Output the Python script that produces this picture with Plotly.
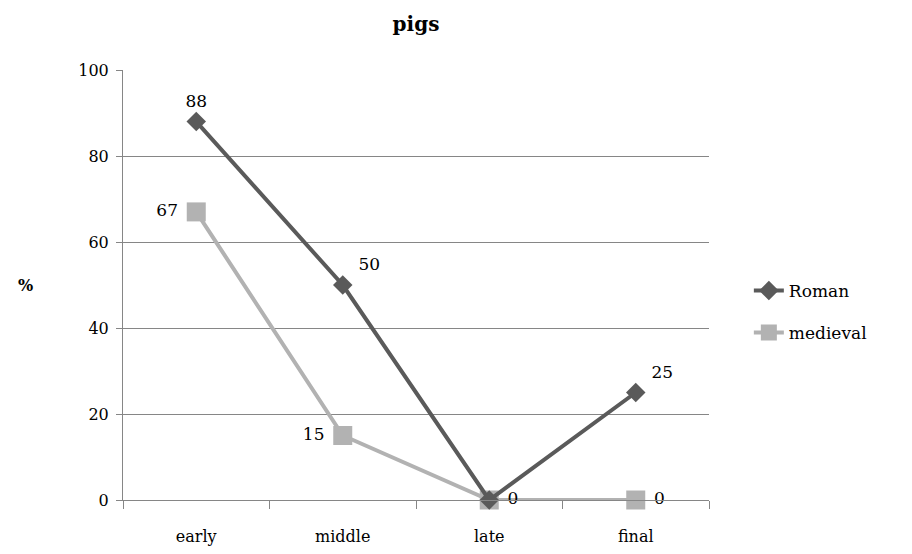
import plotly.graph_objects as go

# Share of pig remains by phase (%)
phases = ["early", "middle", "late", "final"]
roman = [88, 50, 0, 25]
medieval = [67, 15, 0, 0]
# Roman's "late" label coincides with the medieval one, so only one is written
roman_labels = ["88", "50", "", "25"]
roman_label_pos = ["top center", "top right", "middle right", "top right"]
medieval_label_pos = ["middle left", "middle left", "middle right", "middle right"]
y_ticks = [0, 20, 40, 60, 80, 100]

SERIF = "DejaVu Serif"
DARK = "#5a5a5a"
LIGHT = "#b2b2b2"
LABEL_FONT = dict(family=SERIF, size=17, color="black")

fig = go.Figure()

fig.add_trace(go.Scatter(
    x=phases, y=medieval, name="medieval", mode="lines+markers+text",
    line=dict(color=LIGHT, width=4),
    marker=dict(symbol="square", size=19, color=LIGHT),
    text=[" " + str(v) + " " for v in medieval], textposition=medieval_label_pos,
    textfont=LABEL_FONT, legend="legend2", cliponaxis=False,
))
fig.add_trace(go.Scatter(
    x=phases, y=roman, name="Roman", mode="lines+markers+text",
    line=dict(color=DARK, width=4),
    marker=dict(symbol="diamond", size=15, color=DARK),
    text=[" " + t + " " if t else "" for t in roman_labels],
    textposition=roman_label_pos,
    textfont=LABEL_FONT, legend="legend", cliponaxis=False,
))

fig.update_layout(
    width=912, height=554,
    margin=dict(l=123, r=203, t=70, b=54, autoexpand=False),
    paper_bgcolor="white", plot_bgcolor="white",
    font=dict(family=SERIF, size=16, color="black"),
    title=dict(text="<b>pigs</b>", x=0.5, xref="paper", xanchor="center",
               y=1 - 24 / 554, yanchor="middle",
               font=dict(family=SERIF, size=20, color="black")),
    showlegend=True,
    legend=dict(x=1.068, y=(500 - 291) / 430, xanchor="left", yanchor="middle",
                font=dict(family=SERIF, size=17, color="black"),
                bgcolor="rgba(0,0,0,0)"),
    legend2=dict(x=1.068, y=(500 - 333) / 430, xanchor="left", yanchor="middle",
                 font=dict(family=SERIF, size=17, color="black"),
                 bgcolor="rgba(0,0,0,0)"),
    xaxis=dict(
        type="category", categoryorder="array", categoryarray=phases,
        range=[-0.5, 3.5], showgrid=False, zeroline=False, automargin=False,
        showline=True, linecolor="#868686", linewidth=1,
        ticks="outside", tickson="boundaries", ticklen=8, tickcolor="#868686",
        tickfont=dict(family=SERIF, size=16, color="black"),
        ticklabelstandoff=22,
    ),
    yaxis=dict(
        range=[0, 100], tickvals=y_ticks, showgrid=True, gridcolor="#868686",
        gridwidth=1, zeroline=False, showline=True, linecolor="#868686",
        linewidth=1, ticks="outside", ticklen=6, tickcolor="#868686",
        tickfont=dict(family=SERIF, size=16, color="black"),
        ticklabelstandoff=4, automargin=False,
    ),
    annotations=[dict(text="<b>%</b>", xref="paper", yref="paper",
                      x=-(123 - 25) / 586, y=(500 - 285) / 430,
                      xanchor="center", yanchor="middle", showarrow=False,
                      font=dict(family=SERIF, size=16, color="black"))],
)

fig.write_html("out.html")
